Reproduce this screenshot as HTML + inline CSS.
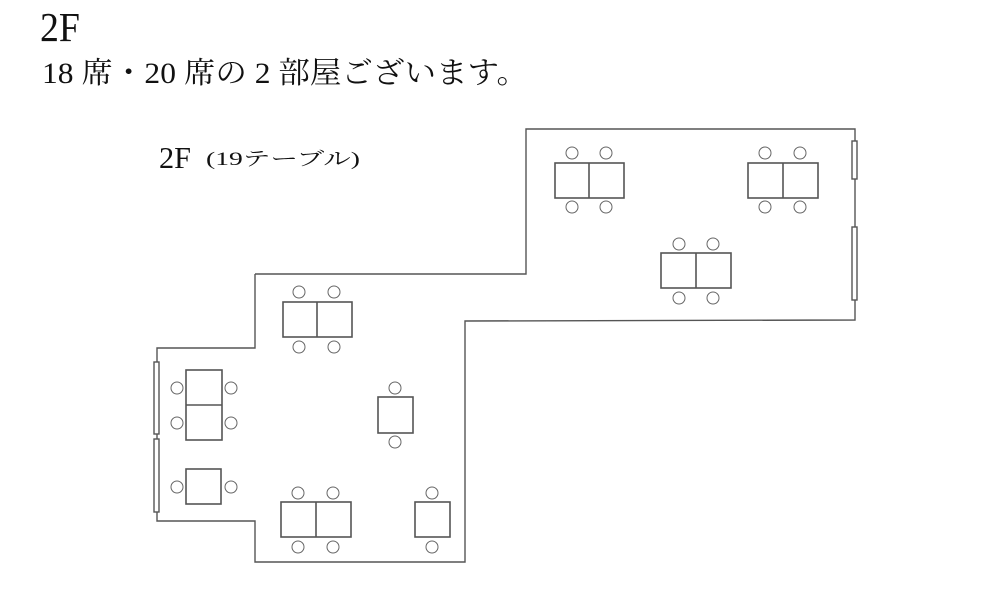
<!DOCTYPE html>
<html><head><meta charset="utf-8"><style>
html,body{margin:0;padding:0;background:#fff;}
svg{display:block;}
text{font-family:"Liberation Serif","Noto Serif CJK JP","Noto Serif CJK SC",serif;fill:#111;}
</style></head><body>
<svg width="1000" height="614" viewBox="0 0 1000 614" xmlns="http://www.w3.org/2000/svg">
<text x="40" y="41" font-size="41" textLength="40" lengthAdjust="spacingAndGlyphs">2F</text>
<text x="42" y="83" font-size="30" textLength="486" lengthAdjust="spacingAndGlyphs">18 席・20 席の 2 部屋ございます。</text>
<text x="159" y="168" font-size="31" textLength="32" lengthAdjust="spacingAndGlyphs">2F</text>
<text x="206" y="165" font-size="19" font-weight="normal" textLength="154" lengthAdjust="spacingAndGlyphs">(19テーブル)</text>
<g fill="none" stroke="#555" stroke-width="1.4">
<polyline points="255,274 526,274 526,129 855,129 855,320 465,321 465,562 255,562 255,521 157,521 157,348 255,348 255,274"/>
<rect x="154" y="362" width="5" height="72" fill="#fff"/>
<rect x="154" y="439" width="5" height="73" fill="#fff"/>
<rect x="852" y="141" width="5" height="38" fill="#fff"/>
<rect x="852" y="227" width="5" height="73" fill="#fff"/>
</g>
<g fill="none" stroke="#555" stroke-width="1.6">
<rect x="283" y="302" width="69" height="35"/><line x1="317" y1="302" x2="317" y2="337"/>
<rect x="186" y="370" width="36" height="70"/><line x1="186" y1="405" x2="222" y2="405"/>
<rect x="186" y="469" width="35" height="35"/>
<rect x="378" y="397" width="35" height="36"/>
<rect x="281" y="502" width="70" height="35"/><line x1="316" y1="502" x2="316" y2="537"/>
<rect x="415" y="502" width="35" height="35"/>
<rect x="555" y="163" width="69" height="35"/><line x1="589" y1="163" x2="589" y2="198"/>
<rect x="748" y="163" width="70" height="35"/><line x1="783" y1="163" x2="783" y2="198"/>
<rect x="661" y="253" width="70" height="35"/><line x1="696" y1="253" x2="696" y2="288"/>
</g>
<g fill="none" stroke="#666" stroke-width="1">
<circle cx="299" cy="292" r="6"/><circle cx="334" cy="292" r="6"/>
<circle cx="299" cy="347" r="6"/><circle cx="334" cy="347" r="6"/>
<circle cx="177" cy="388" r="6"/><circle cx="231" cy="388" r="6"/>
<circle cx="177" cy="423" r="6"/><circle cx="231" cy="423" r="6"/>
<circle cx="177" cy="487" r="6"/><circle cx="231" cy="487" r="6"/>
<circle cx="395" cy="388" r="6"/><circle cx="395" cy="442" r="6"/>
<circle cx="298" cy="493" r="6"/><circle cx="333" cy="493" r="6"/>
<circle cx="298" cy="547" r="6"/><circle cx="333" cy="547" r="6"/>
<circle cx="432" cy="493" r="6"/><circle cx="432" cy="547" r="6"/>
<circle cx="572" cy="153" r="6"/><circle cx="606" cy="153" r="6"/>
<circle cx="572" cy="207" r="6"/><circle cx="606" cy="207" r="6"/>
<circle cx="765" cy="153" r="6"/><circle cx="800" cy="153" r="6"/>
<circle cx="765" cy="207" r="6"/><circle cx="800" cy="207" r="6"/>
<circle cx="679" cy="244" r="6"/><circle cx="713" cy="244" r="6"/>
<circle cx="679" cy="298" r="6"/><circle cx="713" cy="298" r="6"/>
</g>
</svg>
</body></html>
